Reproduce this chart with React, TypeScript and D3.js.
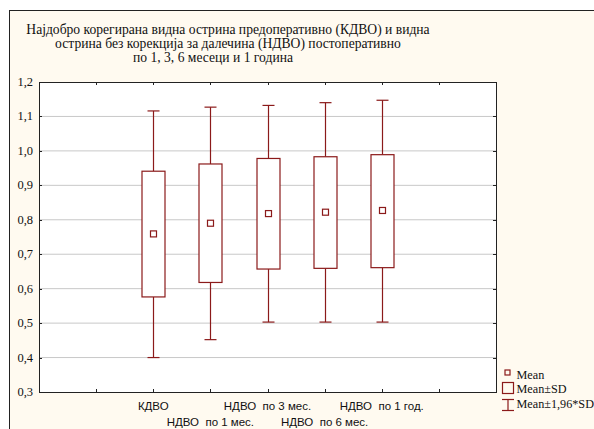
import * as d3 from 'd3';
import React from 'react';

const TITLE_LINES = [
  "Најдобро корегирана видна острина предоперативно (КДВО) и видна",
  "острина без корекција за далечина (НДВО) постоперативно",
  "по 1, 3, 6 месеци и 1 година",
];

const CATEGORIES = ["КДВО", "НДВО  по 1 мес.", "НДВО  по 3 мес.", "НДВО  по 6 мес.", "НДВО  по 1 год."];
const MEANS = [0.759, 0.790, 0.818, 0.822, 0.827];
const SD_LOW = [0.576, 0.618, 0.657, 0.659, 0.661];
const SD_HIGH = [0.941, 0.962, 0.978, 0.983, 0.989];
const CI_LOW = [0.400, 0.452, 0.503, 0.503, 0.503];
const CI_HIGH = [1.116, 1.127, 1.132, 1.140, 1.147];

const Y_TICKS = [0.3, 0.4, 0.5, 0.6, 0.7, 0.8, 0.9, 1.0, 1.1, 1.2];
const X_TICKS = [1, 2, 3, 4, 5, 6, 7];
const LEGEND_LABELS = ["Mean", "Mean±SD", "Mean±1,96*SD"];

const W = 594;
const H = 429;
const RED = "#8b1a1a";
const SERIF = "'Liberation Serif', 'Times New Roman', serif";
const SANS = "'Liberation Sans', Arial, sans-serif";

const App: React.FC = () => {
  const left = 39, right = 496, top = 82, bottom = 392;

  const x = d3.scaleLinear().domain([0, 8]).range([left, right]);
  const y = d3.scaleLinear().domain([0.3, 1.2]).range([bottom, top]);
  const fmt = (v: number) => d3.format(".1f")(v).replace(".", ",");

  const boxW = 23;
  const capW = 12;
  const meanS = 6;

  return (
    <svg width={W} height={H} style={{ position: 'absolute', left: 0, top: 0, background: '#fff' }}>
      {/* outer frame */}
      <rect x={9.5} y={10.5} width={W + 20} height={H + 20} fill="#fffaf0" stroke="#222" />

      {TITLE_LINES.map((t, i) => (
        <text key={i} x={i === 2 ? 213 : 228} y={34 + i * 14} textAnchor="middle"
          fontFamily={SERIF} fontSize={13.6} fill="#111">{t}</text>
      ))}

      {/* plot area */}
      <rect x={left} y={top} width={right - left} height={bottom - top} fill="#fff" />

      {Y_TICKS.slice(1, -1).map(v => (
        <line key={v} x1={left} x2={right} y1={y(v)} y2={y(v)} stroke="#c8c8c8" strokeWidth={1} />
      ))}

      {/* boxes */}
      {CATEGORIES.map((c, i) => {
        const cx = Math.round(x(i + 2)) + 0.5;
        return (
          <g key={c} stroke={RED} strokeWidth={1.2} fill="none">
            <line x1={cx} x2={cx} y1={y(CI_HIGH[i])} y2={y(SD_HIGH[i])} />
            <line x1={cx} x2={cx} y1={y(SD_LOW[i])} y2={y(CI_LOW[i])} />
            <line x1={cx - capW / 2} x2={cx + capW / 2} y1={y(CI_HIGH[i])} y2={y(CI_HIGH[i])} />
            <line x1={cx - capW / 2} x2={cx + capW / 2} y1={y(CI_LOW[i])} y2={y(CI_LOW[i])} />
            <rect x={cx - boxW / 2} y={y(SD_HIGH[i])} width={boxW}
              height={y(SD_LOW[i]) - y(SD_HIGH[i])} fill="#fff" />
            <rect x={cx - meanS / 2} y={y(MEANS[i]) - meanS / 2} width={meanS} height={meanS} fill="#fff" />
          </g>
        );
      })}

      {/* ticks */}
      <g stroke="#222" strokeWidth={1}>
        {Y_TICKS.map(v => (
          <g key={v}>
            <line x1={left} x2={left + 3} y1={Math.round(y(v)) + 0.5} y2={Math.round(y(v)) + 0.5} />
            <line x1={right - 3} x2={right} y1={Math.round(y(v)) + 0.5} y2={Math.round(y(v)) + 0.5} />
          </g>
        ))}
        {X_TICKS.map(t => (
          <g key={t}>
            <line x1={Math.round(x(t)) + 0.5} x2={Math.round(x(t)) + 0.5} y1={bottom} y2={bottom - 3} />
            <line x1={Math.round(x(t)) + 0.5} x2={Math.round(x(t)) + 0.5} y1={top} y2={top + 3} />
          </g>
        ))}
      </g>
      <rect x={left + 0.5} y={top + 0.5} width={right - left} height={bottom - top}
        fill="none" stroke="#222" strokeWidth={1} />

      {Y_TICKS.map(v => (
        <text key={v} x={33} y={y(v) + 4} textAnchor="end" fontFamily={SERIF} fontSize={12.5} fill="#111">
          {fmt(v)}
        </text>
      ))}

      {CATEGORIES.map((c, i) => (
        <text key={c} x={x(i + 2)} y={i % 2 === 0 ? 410 : 426} textAnchor="middle" xmlSpace="preserve"
          fontFamily={SANS} fontSize={11.5} fill="#111" style={{ whiteSpace: 'pre' }}>{c}</text>
      ))}

      {/* legend */}
      <g stroke={RED} strokeWidth={1.2} fill="none">
        <rect x={505} y={370} width={5} height={5} />
        <rect x={502.5} y={382.5} width={11} height={11} />
        <line x1={502} x2={514} y1={399.5} y2={399.5} />
        <line x1={502} x2={514} y1={410.5} y2={410.5} />
        <line x1={508} x2={508} y1={399.5} y2={410.5} />
      </g>
      {LEGEND_LABELS.map((l, i) => (
        <text key={l} x={516.5} y={378.5 + i * 14.5} fontFamily={SERIF} fontSize={12.2} fill="#111">{l}</text>
      ))}
    </svg>
  );
};

export default App;
